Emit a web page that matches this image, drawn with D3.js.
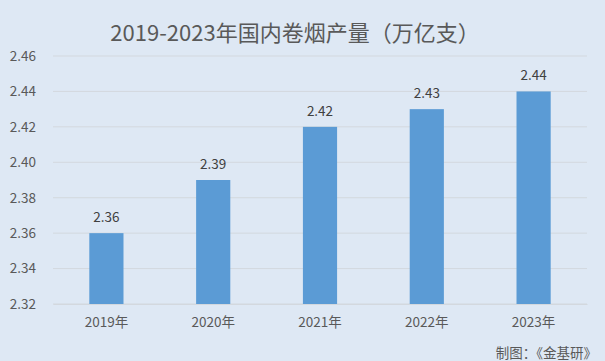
<!DOCTYPE html>
<html><head><meta charset="utf-8">
<script src="https://cdn.jsdelivr.net/npm/d3@7"></script>
<style>body{margin:0;}svg{display:block;}</style>
</head><body>
<script>
const categories = ["2019年","2020年","2021年","2022年","2023年"];
const values = [2.36, 2.39, 2.42, 2.43, 2.44];
const yTicks = [2.32, 2.34, 2.36, 2.38, 2.40, 2.42, 2.44, 2.46];
const title = "2019-2023年国内卷烟产量（万亿支）";
const credit = "制图：《金基研》";

const W = 605, H = 361;
const font = "'Microsoft YaHei','Noto Sans CJK SC',sans-serif";
const svg = d3.select("body").append("svg").attr("width", W).attr("height", H);
svg.append("rect").attr("width", W).attr("height", H).attr("fill", "#dee8f4");

const x = d3.scaleBand().domain(categories).range([53, 587]).paddingInner(0.68).paddingOuter(0.34);
const y = d3.scaleLinear().domain([2.32, 2.46]).range([304, 56]);

const grid = svg.append("g");
grid.selectAll("line").data(yTicks).join("line")
  .attr("x1", 53).attr("x2", 587)
  .attr("y1", d => y(d)).attr("y2", d => y(d))
  .attr("stroke", "#d3d8de").attr("stroke-width", 1);

const yAxis = svg.append("g").attr("transform", "translate(53,0)")
  .call(d3.axisLeft(y).tickValues(yTicks).tickFormat(d3.format(".2f")).tickSize(0).tickPadding(17));
yAxis.select(".domain").remove();
yAxis.selectAll("text").attr("fill", "#595959").style("font-family", font).style("font-size", "13.5px");

svg.selectAll("rect.bar").data(values).join("rect").attr("class", "bar")
  .attr("x", (d, i) => x(categories[i])).attr("width", x.bandwidth())
  .attr("y", d => y(d)).attr("height", d => y(2.32) - y(d))
  .attr("fill", "#5b9bd5");

svg.selectAll("text.lab").data(values).join("text").attr("class", "lab")
  .attr("x", (d, i) => x(categories[i]) + x.bandwidth() / 2)
  .attr("y", d => y(d) - 11)
  .attr("text-anchor", "middle").attr("fill", "#404040")
  .style("font-family", font).style("font-size", "13.5px")
  .text(d => d.toFixed(2));

const xAxis = svg.append("g").attr("transform", "translate(0,304)")
  .call(d3.axisBottom(x).tickSize(0).tickPadding(13));
xAxis.select(".domain").attr("stroke", "#d3d8de");
xAxis.selectAll("text").attr("fill", "#595959").style("font-family", font).style("font-size", "13.5px");

svg.append("text").attr("x", 295).attr("y", 41).attr("text-anchor", "middle")
  .attr("fill", "#595959").style("font-family", font).style("font-size", "22px").text(title);

svg.append("text").attr("x", 597).attr("y", 358).attr("text-anchor", "end")
  .attr("fill", "#595959").style("font-family", font).style("font-size", "13.5px").text(credit);
</script>
</body></html>
